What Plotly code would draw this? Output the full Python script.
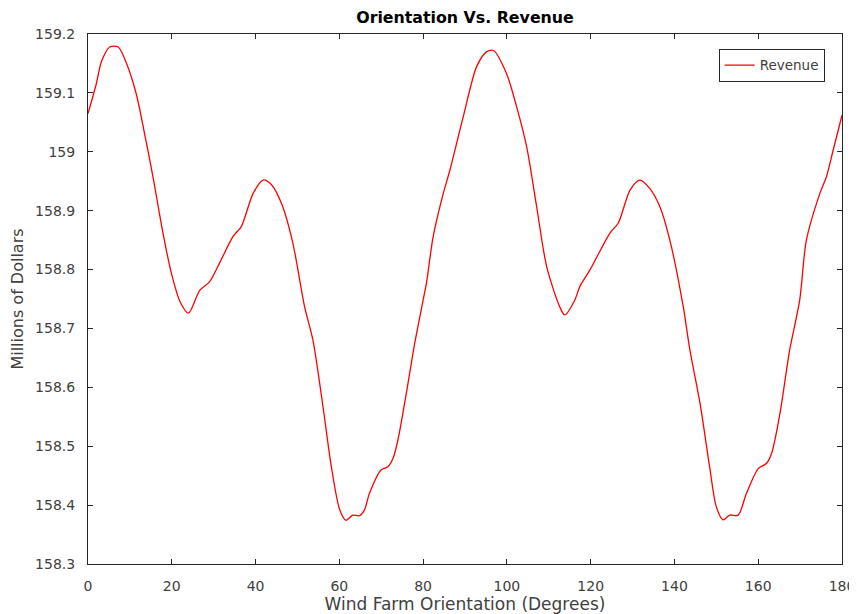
import plotly.graph_objects as go

orientation = [0.0, 2.0, 3.2, 5.2, 7.2, 9.2, 11.5, 13.5, 15.5, 17.9, 19.9, 22.0, 24.0,
               26.7, 29.0, 31.4, 34.6, 36.6, 39.4, 41.8, 43.8, 46.2, 48.9, 51.7,
               53.7, 56.1, 58.1, 60.1, 61.6, 63.2, 64.8, 66.0, 67.2, 70.0, 71.6,
               72.8, 74.0, 76.0, 78.0, 80.0, 80.8, 82.4, 84.8, 86.4, 89.6, 92.8,
               95.2, 96.8, 99.9, 102.3, 104.7, 107.1, 109.5, 112.6, 113.8, 116.2,
               117.4, 119.8, 124.6, 126.6, 129.4, 131.7, 134.1, 136.5, 138.9,
               142.1, 143.7, 146.1, 148.4, 150.0, 151.6, 153.2, 155.2, 157.2,
               160.0, 162.0, 163.2, 165.2, 167.5, 169.9, 171.5, 174.7, 176.3,
               177.9, 180.0]
revenue = [159.065, 159.116, 159.153, 159.178, 159.178, 159.150, 159.099, 159.031,
           158.958, 158.862, 158.794, 158.745, 158.726, 158.765, 158.779, 158.811,
           158.856, 158.873, 158.929, 158.952, 158.944, 158.912, 158.845, 158.737,
           158.680, 158.567, 158.465, 158.392, 158.374, 158.383, 158.382, 158.392,
           158.420, 158.460, 158.465, 158.479, 158.511, 158.590, 158.675, 158.748,
           158.777, 158.856, 158.929, 158.969, 159.060, 159.145, 159.170, 159.172,
           159.133, 159.077, 159.009, 158.907, 158.805, 158.737, 158.723, 158.748,
           158.771, 158.799, 158.862, 158.879, 158.935, 158.952, 158.938, 158.907,
           158.850, 158.737, 158.663, 158.573, 158.465, 158.397, 158.375, 158.383,
           158.383, 158.420, 158.462, 158.471, 158.488, 158.556, 158.663, 158.748,
           158.850, 158.929, 158.958, 159.003, 159.062]

x_ticks = [0, 20, 40, 60, 80, 100, 120, 140, 160, 180]
y_ticks = [158.3, 158.4, 158.5, 158.6, 158.7, 158.8, 158.9, 159.0, 159.1, 159.2]
y_tick_text = ["158.3", "158.4", "158.5", "158.6", "158.7", "158.8", "158.9", "159", "159.1", "159.2"]

WIDE = "DejaVu Sans, Verdana, sans-serif"

fig = go.Figure()
fig.add_trace(go.Scatter(x=orientation, y=revenue, mode="lines", name="Revenue",
                         line=dict(color="#ff0000", width=1.3, shape="spline", smoothing=0.8)))

axis_common = dict(showgrid=False, zeroline=False, showline=True, mirror="ticks",
                   linecolor="#262626", linewidth=1, ticks="inside", ticklen=5,
                   tickcolor="#262626", ticklabelstandoff=9, automargin=False,
                   tickfont=dict(family=WIDE, size=14, color="#404040"))

fig.update_layout(
    width=857, height=614,
    margin=dict(l=80, r=23, t=26, b=58),
    paper_bgcolor="white", plot_bgcolor="white",
    title=dict(text="<b>Orientation Vs. Revenue</b>", xref="paper", x=0.5, xanchor="center",
               y=0.984, yanchor="middle",
               font=dict(family=WIDE, size=15.8, color="#000000")),
    xaxis=dict(range=[0, 180], tickvals=x_ticks, ticktext=[str(v) for v in x_ticks],
               title=dict(text="Wind Farm Orientation (Degrees)", standoff=3,
                          font=dict(family=WIDE, size=17, color="#404040")),
               **axis_common),
    yaxis=dict(range=[158.3, 159.2], tickvals=y_ticks, ticktext=y_tick_text,
               title=dict(text="Millions of Dollars", standoff=9,
                          font=dict(family=WIDE, size=16, color="#404040")),
               **axis_common),
    showlegend=True,
    legend=dict(x=0.977, y=0.972, xanchor="right", yanchor="top",
                bordercolor="#262626", borderwidth=1, bgcolor="white",
                tracegroupgap=0,
                font=dict(family=WIDE, size=13.5, color="#404040")),
)

fig.write_html("out.html")
